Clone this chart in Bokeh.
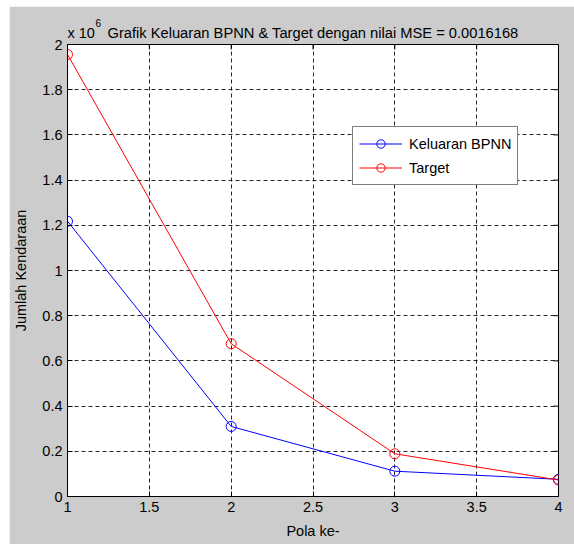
import math
from bokeh.plotting import figure
from bokeh.models import Range1d, FixedTicker, Legend, LegendItem, Label
from bokeh.embed import file_html
from bokeh.resources import INLINE

# ---- data ----
pola = [1, 2, 3, 4]
keluaran_bpnn = [1218000, 310000, 112000, 76000]
target = [1956000, 676000, 189000, 73000]

x_ticks = [1, 1.5, 2, 2.5, 3, 3.5, 4]
x_tick_labels = ["1", "1.5", "2", "2.5", "3", "3.5", "4"]
y_ticks = [0, 200000, 400000, 600000, 800000, 1000000, 1200000, 1400000, 1600000, 1800000, 2000000]
y_tick_labels = ["0", "0.2", "0.4", "0.6", "0.8", "1", "1.2", "1.4", "1.6", "1.8", "2"]

exponent_base = "x 10"
exponent_power = "6"
title_text = "Grafik Keluaran BPNN & Target dengan nilai MSE = 0.0016168"
x_label = "Pola ke-"
y_label = "Jumlah Kendaraan"
series_names = ["Keluaran BPNN", "Target"]

FONT = "Liberation Sans"
FS = "14.5px"
GRAY = "#cccccc"

x0, x1 = 1, 4
y0, y1 = 0, 2000000

p = figure(width=565, height=538, output_backend="svg", toolbar_location=None,
           x_range=Range1d(x0, x1), y_range=Range1d(y0, y1), title_location=None,
           min_border_left=58, min_border_right=16, min_border_top=38, min_border_bottom=48,
           background_fill_color="white", border_fill_color=GRAY,
           outline_line_color="black", outline_line_width=1)
p.margin = (6, 0, 0, 9)

# axes styling
for ax, ticks, labels in ((p.xaxis[0], x_ticks, x_tick_labels), (p.yaxis[0], y_ticks, y_tick_labels)):
    ax.ticker = FixedTicker(ticks=ticks)
    ax.major_label_overrides = {t: l for t, l in zip(ticks, labels)}
    ax.major_tick_in = 5
    ax.major_tick_out = 0
    ax.minor_tick_in = 0
    ax.minor_tick_out = 0
    ax.axis_line_color = "black"
    ax.major_tick_line_color = "black"
    ax.major_label_text_font = FONT
    ax.major_label_text_font_size = FS
    ax.major_label_text_color = "black"
    ax.major_label_standoff = 5
    ax.axis_label_text_font = FONT
    ax.axis_label_text_font_size = FS
    ax.axis_label_text_font_style = "normal"
    ax.axis_label_text_color = "black"

p.xaxis[0].axis_label = x_label
p.xaxis[0].axis_label_standoff = 8
p.yaxis[0].axis_label = y_label
p.yaxis[0].axis_label_standoff = 10

# grid
for g, ticks in ((p.xgrid[0], x_ticks), (p.ygrid[0], y_ticks)):
    g.ticker = FixedTicker(ticks=ticks)
    g.grid_line_color = "black"
    g.grid_line_alpha = 0.85
    g.grid_line_dash = "4 3"
    g.grid_line_width = 1

# inward ticks on the top and right edges of the box (half of each dash is clipped by the frame)
p.scatter(x_ticks, [y1] * len(x_ticks), marker="dash", angle=math.pi / 2, size=10,
          line_color="black", line_width=1)
p.scatter([x1] * len(y_ticks), y_ticks, marker="dash", angle=0, size=10,
          line_color="black", line_width=1)

# series
colors = ["#0000ff", "#ff0000"]
items = []
for name, vals, c in zip(series_names, [keluaran_bpnn, target], colors):
    r1 = p.line(pola, vals, line_color=c, line_width=1)
    r2 = p.scatter(pola, vals, marker="circle", size=10, fill_color=None, line_color=c, line_width=1)
    items.append(LegendItem(label=name, renderers=[r1, r2]))

legend = Legend(items=items, location=(285, 311), orientation="vertical",
                border_line_color="black", border_line_width=1, background_fill_color="white",
                background_fill_alpha=1, label_text_font=FONT, label_text_font_size=FS,
                label_text_color="black", glyph_width=43, glyph_height=21, label_height=21,
                label_standoff=7, spacing=3, padding=6, margin=0)
p.add_layout(legend, "center")

# title and MATLAB-style exponent marker (placed in side panels so they are not clipped)
p.add_layout(Label(x=(x0 + x1) / 2, y=y1, y_offset=12, text=title_text, text_align="center",
                   text_baseline="alphabetic", text_font=FONT, text_font_size="14.7px",
                   text_color="black"), "above")
p.add_layout(Label(x=x0, y=y1, y_offset=12, text=exponent_base, text_align="left",
                   text_baseline="alphabetic", text_font=FONT, text_font_size=FS,
                   text_color="black"), "above")
p.add_layout(Label(x=x0, y=y1, x_offset=28, y_offset=22, text=exponent_power, text_align="left",
                   text_baseline="alphabetic", text_font=FONT, text_font_size="10px",
                   text_color="black"), "right")

open("out.html", "w").write(file_html(p, INLINE))
